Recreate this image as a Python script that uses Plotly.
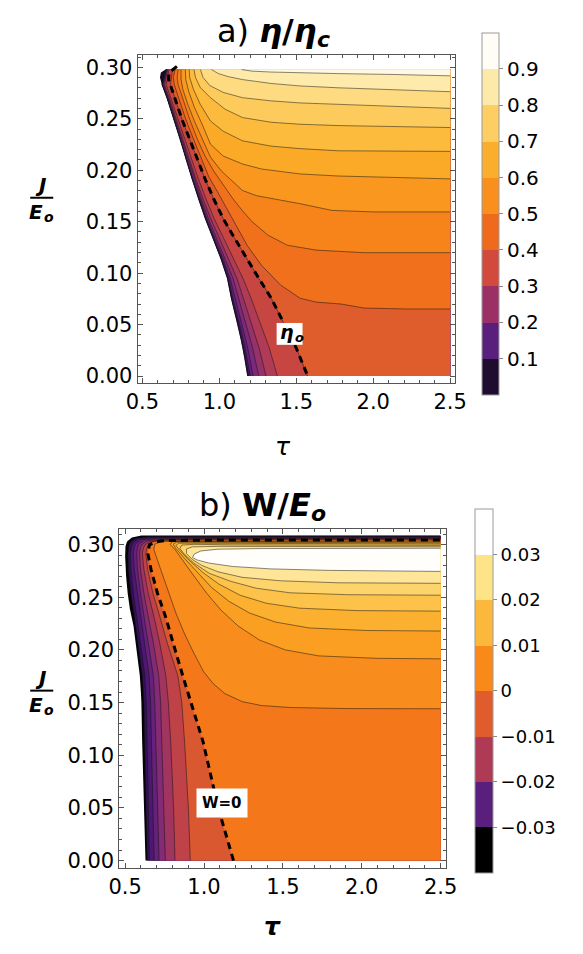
import plotly.graph_objects as go

W, H = 583, 954
TAU_END = 2.5
FONT = "DejaVu Sans"

# ---------------- (a) efficiency ratio eta / eta_c ----------------
eta_J_top = 0.2978
# edge of the working region (eta -> 0)
eta_edge_tau = [0.651, 0.620, 0.614, 0.626, 0.651, 0.683, 0.714, 0.745, 0.782, 0.820,
                0.863, 0.907, 0.957, 1.007, 1.050, 1.075, 1.106, 1.137, 1.162, 1.181]
eta_edge_J = [0.2978, 0.2949, 0.2901, 0.2833, 0.2737, 0.2592, 0.2447, 0.2302, 0.2109, 0.1916,
              0.1723, 0.1530, 0.1337, 0.1144, 0.0950, 0.0757, 0.0564, 0.0371, 0.0179, 0.0]

# contours that run from the top edge down to J = 0, sampled on fixed J rows
eta_rows_J = [0.2978, 0.2833, 0.2688, 0.2495, 0.2302, 0.2109, 0.1916, 0.1723,
              0.1530, 0.1337, 0.1144, 0.0950, 0.0757, 0.0517, 0.0275, 0.0]
eta_low_tau = {
    0.05: [0.652, 0.627, 0.663, 0.705, 0.746, 0.783, 0.821, 0.864, 0.908, 0.958, 1.009, 1.052, 1.078, 1.117, 1.153, 1.185],
    0.10: [0.653, 0.628, 0.663, 0.705, 0.747, 0.784, 0.822, 0.866, 0.910, 0.961, 1.011, 1.055, 1.082, 1.122, 1.158, 1.191],
    0.15: [0.654, 0.629, 0.665, 0.707, 0.748, 0.786, 0.824, 0.868, 0.913, 0.964, 1.016, 1.061, 1.088, 1.130, 1.167, 1.201],
    0.20: [0.656, 0.632, 0.667, 0.709, 0.751, 0.789, 0.829, 0.873, 0.919, 0.971, 1.024, 1.070, 1.101, 1.144, 1.184, 1.220],
    0.25: [0.660, 0.637, 0.672, 0.714, 0.757, 0.796, 0.837, 0.882, 0.929, 0.984, 1.039, 1.089, 1.125, 1.172, 1.216, 1.256],
    0.30: [0.665, 0.644, 0.678, 0.720, 0.764, 0.805, 0.847, 0.894, 0.944, 1.001, 1.059, 1.114, 1.156, 1.208, 1.258, 1.303],
    0.35: [0.673, 0.655, 0.688, 0.731, 0.776, 0.820, 0.864, 0.913, 0.966, 1.029, 1.091, 1.153, 1.206, 1.266, 1.324, 1.377],
    0.40: [0.695, 0.683, 0.714, 0.757, 0.807, 0.857, 0.907, 0.963, 1.025, 1.100, 1.175, 1.256, 1.337, 1.418, 1.499, 1.574],
}
# contours that run from the top edge to the right edge (tau list, J list)
eta_high = {
    0.45: ([0.712, 0.701, 0.707, 0.739, 0.782, 0.832, 0.882, 0.932, 0.988, 1.050, 1.112, 1.181, 1.274, 1.399, 1.524, 1.630, 1.792, 1.941, 2.209, 2.5],
           [0.2978, 0.2901, 0.2833, 0.2688, 0.2495, 0.2302, 0.2109, 0.1935, 0.1791, 0.1626, 0.1453, 0.1269, 0.1076, 0.0883, 0.0757, 0.0719, 0.0700, 0.0661, 0.0652, 0.0652]),
    0.50: ([0.732, 0.726, 0.732, 0.763, 0.807, 0.857, 0.907, 0.963, 1.025, 1.088, 1.150, 1.212, 1.316, 1.441, 1.628, 1.939, 2.5],
           [0.2978, 0.2901, 0.2833, 0.2688, 0.2495, 0.2302, 0.2138, 0.1993, 0.1858, 0.1723, 0.1607, 0.1501, 0.1369, 0.1272, 0.1224, 0.1199, 0.1199]),
    0.55: ([0.751, 0.751, 0.763, 0.795, 0.838, 0.888, 0.942, 1.013, 1.088, 1.150, 1.243, 1.357, 1.524, 1.731, 2.002, 2.5],
           [0.2978, 0.2881, 0.2785, 0.2640, 0.2476, 0.2302, 0.2128, 0.1993, 0.1887, 0.1803, 0.1752, 0.1723, 0.1675, 0.1610, 0.1595, 0.1595]),
    0.60: ([0.779, 0.782, 0.801, 0.838, 0.888, 0.942, 1.025, 1.150, 1.274, 1.524, 1.773, 2.147, 2.5],
           [0.2978, 0.2881, 0.2765, 0.2611, 0.2447, 0.2254, 0.2138, 0.2061, 0.2012, 0.1964, 0.1944, 0.1926, 0.1916]),
    0.65: ([0.804, 0.807, 0.832, 0.876, 0.942, 1.025, 1.150, 1.337, 1.524, 1.773, 2.147, 2.5],
           [0.2978, 0.2901, 0.2785, 0.2640, 0.2479, 0.2379, 0.2286, 0.2234, 0.2210, 0.2189, 0.2186, 0.2183]),
    0.70: ([0.835, 0.845, 0.876, 0.942, 1.038, 1.150, 1.337, 1.524, 1.773, 2.147, 2.5],
           [0.2978, 0.2901, 0.2804, 0.2705, 0.2592, 0.2512, 0.2466, 0.2447, 0.2434, 0.2423, 0.2415]),
    0.75: ([0.877, 0.894, 0.938, 1.025, 1.150, 1.337, 1.524, 1.773, 2.147, 2.5],
           [0.2978, 0.2901, 0.2823, 0.2756, 0.2705, 0.2674, 0.2654, 0.2640, 0.2621, 0.2601]),
    0.80: ([0.949, 0.994, 1.056, 1.150, 1.337, 1.524, 1.773, 2.147, 2.5],
           [0.2978, 0.2939, 0.2910, 0.2881, 0.2843, 0.2819, 0.2801, 0.2780, 0.2763]),
    0.85: ([1.145, 1.212, 1.337, 1.524, 1.773, 2.147, 2.5],
           [0.2978, 0.2963, 0.2954, 0.2946, 0.2939, 0.2930, 0.2917]),
}
# eta = eta_o curve
eta0_tau = [0.724, 0.672, 0.670, 0.714, 0.757, 0.807, 0.857, 0.907, 0.963, 1.025, 1.100, 1.175, 1.256, 1.337, 1.418, 1.499, 1.574]
eta0_J = [0.3010, 0.2946, 0.2881, 0.2688, 0.2495, 0.2302, 0.2109, 0.1916, 0.1723, 0.1530, 0.1337, 0.1144, 0.0950, 0.0757, 0.0517, 0.0275, 0.0]

eta_band_colors = ["#170a22", "#34104f", "#4c176f", "#631f7d", "#7c297a", "#97316a",
                   "#b03b56", "#c84642", "#df5c2c", "#f0701c", "#f6841a", "#f9971e",
                   "#fbaa28", "#fcbb3d", "#fdcb5c", "#fedb80", "#feeaaa", "#fff8e3"]
eta_bar_ticks = [0.1, 0.2, 0.3, 0.4, 0.5, 0.6, 0.7, 0.8, 0.9]
eta_bar_colors = ["#1f0c2e", "#5a1e7c", "#9b2f66", "#d14a3c", "#ef6a1d",
                  "#f98f1c", "#fbae2b", "#fdce64", "#feeaa8", "#fffdf5"]

# ---------------- (b) work W / E_o ----------------
w_J_top = 0.3085
w_edge_tau = [0.603, 0.543, 0.512, 0.502, 0.500, 0.506, 0.516, 0.530, 0.553, 0.561,
              0.583, 0.593, 0.600, 0.603, 0.608, 0.620, 0.629]
w_edge_J = [0.3085, 0.3066, 0.3028, 0.2981, 0.2887, 0.2698, 0.2538, 0.2387, 0.2226, 0.2132,
            0.1877, 0.1755, 0.1594, 0.1500, 0.1123, 0.0500, 0.0]

# contours (W <= 0) from J = 0 up the left side, round the corner and along the top:
# tau values, then the J values of the corner/top points (top-right first)
w_rows_J = [0.0, 0.0500, 0.1123, 0.1500, 0.1755, 0.2066, 0.2321, 0.2538, 0.2764, 0.2915]
w_low = {
    -0.035: ([0.640, 0.634, 0.625, 0.619, 0.609, 0.582, 0.558, 0.536, 0.521, 0.518, 0.524, 0.536, 0.567, 0.652, 0.998, 2.5],
             [0.3079, 0.3077, 0.3074, 0.3061, 0.3028, 0.2991]),
    -0.030: ([0.654, 0.649, 0.640, 0.634, 0.625, 0.597, 0.573, 0.552, 0.536, 0.533, 0.540, 0.552, 0.585, 0.670, 0.998, 2.5],
             [0.3075, 0.3074, 0.3069, 0.3054, 0.3019, 0.2986]),
    -0.025: ([0.684, 0.676, 0.667, 0.661, 0.652, 0.622, 0.597, 0.576, 0.558, 0.552, 0.558, 0.570, 0.603, 0.682, 0.998, 2.5],
             [0.3071, 0.3069, 0.3063, 0.3047, 0.3014, 0.2981]),
    -0.020: ([0.715, 0.707, 0.698, 0.688, 0.679, 0.646, 0.619, 0.597, 0.579, 0.573, 0.579, 0.591, 0.622, 0.695, 0.998, 2.5],
             [0.3066, 0.3063, 0.3057, 0.3040, 0.3009, 0.2976]),
    -0.015: ([0.755, 0.746, 0.734, 0.725, 0.713, 0.679, 0.646, 0.619, 0.597, 0.591, 0.597, 0.609, 0.640, 0.707, 0.998, 2.5],
             [0.3060, 0.3058, 0.3050, 0.3033, 0.3005, 0.2972]),
    -0.010: ([0.816, 0.807, 0.789, 0.774, 0.758, 0.719, 0.682, 0.646, 0.619, 0.609, 0.616, 0.628, 0.658, 0.725, 0.998, 2.5],
             [0.3055, 0.3052, 0.3043, 0.3028, 0.3000, 0.2967]),
    -0.005: ([0.913, 0.901, 0.877, 0.859, 0.834, 0.767, 0.719, 0.676, 0.643, 0.631, 0.637, 0.649, 0.670, 0.731, 0.998, 2.5],
             [0.3049, 0.3046, 0.3039, 0.3025, 0.3000, 0.2962]),
    0.000: ([1.187, 1.090, 0.995, 0.916, 0.865, 0.804, 0.755, 0.705, 0.664, 0.644, 0.654, 0.695, 0.755, 0.998, 1.606, 2.5],
            [0.3044, 0.3044, 0.3042, 0.3038, 0.3028, 0.2997]),
}
# closed contours (W > 0) from the right edge round the left and back to the right edge
w_high = {
    0.005: ([2.5, 1.910, 1.546, 1.363, 1.242, 1.132, 1.059, 0.998, 0.938, 0.877, 0.822, 0.774, 0.731, 0.701, 0.682, 0.688, 0.731, 0.847, 2.5],
            [0.1441, 0.1443, 0.1453, 0.1472, 0.1509, 0.1585, 0.1679, 0.1792, 0.1962, 0.2151, 0.2349, 0.2547, 0.2726, 0.2868, 0.2953, 0.3005, 0.3028, 0.3034, 0.3036]),
    0.010: ([2.5, 2.093, 1.728, 1.515, 1.351, 1.217, 1.108, 1.017, 0.938, 0.871, 0.816, 0.786, 0.798, 0.877, 2.5],
            [0.1915, 0.1920, 0.1943, 0.2000, 0.2094, 0.2226, 0.2377, 0.2538, 0.2698, 0.2840, 0.2953, 0.3000, 0.3028, 0.3030, 0.3026]),
    0.015: ([2.5, 2.032, 1.667, 1.454, 1.290, 1.157, 1.047, 0.956, 0.877, 0.822, 0.804, 0.828, 0.938, 2.5],
            [0.2179, 0.2184, 0.2208, 0.2264, 0.2349, 0.2462, 0.2594, 0.2736, 0.2868, 0.2962, 0.3005, 0.3023, 0.3023, 0.3016]),
    0.020: ([2.5, 1.971, 1.606, 1.394, 1.229, 1.096, 0.992, 0.907, 0.847, 0.822, 0.840, 0.968, 2.5],
            [0.2368, 0.2373, 0.2396, 0.2443, 0.2519, 0.2623, 0.2736, 0.2849, 0.2943, 0.2991, 0.3013, 0.3013, 0.3005]),
    0.025: ([2.5, 1.910, 1.546, 1.333, 1.169, 1.035, 0.938, 0.877, 0.847, 0.859, 0.938, 1.181, 2.5],
            [0.2519, 0.2524, 0.2542, 0.2585, 0.2651, 0.2726, 0.2821, 0.2906, 0.2962, 0.2995, 0.3002, 0.2997, 0.2992]),
    0.030: ([2.5, 1.850, 1.485, 1.242, 1.090, 0.986, 0.926, 0.889, 0.889, 0.926, 1.090, 1.606, 2.5],
            [0.2632, 0.2637, 0.2656, 0.2689, 0.2741, 0.2802, 0.2858, 0.2915, 0.2958, 0.2978, 0.2983, 0.2981, 0.2979]),
    0.035: ([2.5, 1.789, 1.424, 1.181, 1.029, 0.956, 0.927, 0.938, 0.980, 1.090, 1.363, 2.5],
            [0.2745, 0.2755, 0.2769, 0.2792, 0.2825, 0.2854, 0.2877, 0.2910, 0.2939, 0.2956, 0.2962, 0.2965]),
}
w_band_colors = ["#050208", "#34105a", "#4d1872", "#66217a", "#832b74", "#a2355f",
                 "#bf4249", "#d95830", "#f4781a", "#f88c1c", "#fa9f22", "#fbb02f",
                 "#fcc24a", "#fdd36c", "#fee597", "#fffefa"]
w_bar_ticks = [-0.03, -0.02, -0.01, 0.0, 0.01, 0.02, 0.03]
w_bar_labels = ["\u22120.03", "\u22120.02", "\u22120.01", "0", "0.01", "0.02", "0.03"]
w_bar_colors = ["#000000", "#5a1e7c", "#ae3a55", "#e05c2d", "#f98a1a", "#fcb83c", "#fee387", "#ffffff"]

LINE_COLOR = "rgba(20,20,20,0.5)"

fig = go.Figure()


def band(xs, ys, color, xa, ya):
    fig.add_trace(go.Scatter(x=xs + [xs[0]], y=ys + [ys[0]], mode="lines", fill="toself",
                             fillcolor=color, line=dict(width=0, color=color),
                             hoverinfo="skip", showlegend=False, xaxis=xa, yaxis=ya))


def curve(xs, ys, xa, ya, color=LINE_COLOR, width=1.0, dash=None):
    fig.add_trace(go.Scatter(x=xs, y=ys, mode="lines",
                             line=dict(color=color, width=width, dash=dash),
                             hoverinfo="skip", showlegend=False, xaxis=xa, yaxis=ya))


# ---- panel (a): filled super-level regions, lowest first ----
band(eta_edge_tau + [TAU_END, TAU_END], eta_edge_J + [0.0, eta_J_top], eta_band_colors[0], "x", "y")
a_lines = []
for k, (lev, taus) in enumerate(eta_low_tau.items()):
    band(taus + [TAU_END, TAU_END], eta_rows_J + [0.0, eta_J_top], eta_band_colors[k + 1], "x", "y")
    a_lines.append((taus, eta_rows_J))
off = len(eta_low_tau) + 1
for k, (lev, (taus, js)) in enumerate(eta_high.items()):
    band(taus + [TAU_END], js + [eta_J_top], eta_band_colors[off + k], "x", "y")
    a_lines.append((taus, js))
for taus, js in a_lines:
    curve(taus, js, "x", "y")
curve(eta0_tau, eta0_J, "x", "y", color="black", width=3, dash="7px,5px")

# ---- panel (b) ----
band(w_edge_tau + [TAU_END, TAU_END], w_edge_J + [0.0, w_J_top], w_band_colors[0], "x2", "y2")
b_lines = []
for k, (lev, (taus, top_js)) in enumerate(w_low.items()):
    js = w_rows_J + top_js[::-1]
    band(taus + [TAU_END], js + [0.0], w_band_colors[k + 1], "x2", "y2")
    if lev != 0.0:
        b_lines.append((taus, js))
    else:
        w_zero = (taus, js)
off = len(w_low) + 1
for k, (lev, (taus, js)) in enumerate(w_high.items()):
    band(taus, js, w_band_colors[off + k], "x2", "y2")
    b_lines.append((taus, js))
for taus, js in b_lines:
    curve(taus, js, "x2", "y2")
curve(w_zero[0], w_zero[1], "x2", "y2", color="black", width=3, dash="7px,5px")


def stepped(colors):
    n = len(colors)
    out = []
    for i, c in enumerate(colors):
        out += [[i / n, c], [(i + 1) / n, c]]
    return out


def colorbar_trace(colors, cmin, cmax, ticks, labels, x_px, y_px, len_px, thick, size, xa, ya):
    fig.add_trace(go.Scatter(
        x=[1.0], y=[-1.0], mode="markers", hoverinfo="skip", showlegend=False, xaxis=xa, yaxis=ya,
        marker=dict(size=1, color=[cmin], cmin=cmin, cmax=cmax, colorscale=stepped(colors),
                    showscale=True,
                    colorbar=dict(x=x_px / W, xanchor="left", y=1 - y_px / H, yanchor="top",
                                  len=len_px / H, lenmode="fraction", thickness=thick,
                                  thicknessmode="pixels", xpad=0, ypad=0,
                                  outlinecolor="#9a9a9a", outlinewidth=1,
                                  tickvals=ticks, ticktext=labels, ticks="outside",
                                  ticklen=4, tickcolor="#888", tickwidth=1,
                                  tickfont=dict(family=FONT, size=size, color="black"))),
    ))


colorbar_trace(eta_bar_colors, 0.0, 1.0, eta_bar_ticks, [f"{t:.1f}" for t in eta_bar_ticks],
               490, 33, 364, 17, 20, "x", "y")
colorbar_trace(w_bar_colors, -0.04, 0.04, w_bar_ticks, w_bar_labels,
               483, 512, 366, 18, 18, "x2", "y2")

axis_common = dict(showline=True, linecolor="#555", linewidth=1, mirror="ticks",
                   ticks="inside", ticklen=5, tickcolor="#555", tickwidth=1,
                   showgrid=False, zeroline=False,
                   tickfont=dict(family=FONT, size=21, color="black"))

fig.update_layout(
    width=W, height=H, margin=dict(l=0, r=0, t=0, b=0, pad=0),
    paper_bgcolor="white", plot_bgcolor="white", hovermode=False, showlegend=False,
    xaxis=dict(domain=[131 / W, 462 / W], range=[0.4688, 2.531], anchor="y",
               tickvals=[0.5, 1.0, 1.5, 2.0, 2.5], tickformat=".1f",
               minor=dict(dtick=0.1, tick0=0, ticks="inside", ticklen=3, tickcolor="#555"),
               **axis_common),
    yaxis=dict(domain=[1 - 385 / H, 1 - 55 / H], range=[-0.0063, 0.3123], anchor="x",
               tickvals=[0, 0.05, 0.1, 0.15, 0.2, 0.25, 0.3], tickformat=".2f",
               minor=dict(dtick=0.01, tick0=0, ticks="inside", ticklen=3, tickcolor="#555"),
               **axis_common),
    xaxis2=dict(domain=[112 / W, 453 / W], range=[0.4635, 2.5365], anchor="y2",
                tickvals=[0.5, 1.0, 1.5, 2.0, 2.5], tickformat=".1f",
                minor=dict(dtick=0.1, tick0=0, ticks="inside", ticklen=3, tickcolor="#555"),
                **axis_common),
    yaxis2=dict(domain=[1 - 873 / H, 1 - 532 / H], range=[-0.0066, 0.3151], anchor="x2",
                tickvals=[0, 0.05, 0.1, 0.15, 0.2, 0.25, 0.3], tickformat=".2f",
                minor=dict(dtick=0.01, tick0=0, ticks="inside", ticklen=3, tickcolor="#555"),
                **axis_common),
)


def note(text, x_px, y_px, size, anchor="center"):
    fig.add_annotation(text=text, x=x_px / W, y=1 - y_px / H, xref="paper", yref="paper",
                       showarrow=False, xanchor=anchor, yanchor="middle",
                       font=dict(family=FONT, size=size, color="black"))


# panel titles (subscripts set as their own smaller labels)
note("a) <b><i>\u03b7</i>/<i>\u03b7</i></b>", 320, 31, 32, "right")
note("<b><i>c</i></b>", 316, 40, 22, "left")
note("b) <b>W/<i>E</i></b>", 314, 508, 32, "right")
note("<b><i>o</i></b>", 310, 517, 22, "left")
# axis titles
note("<i>\u03c4</i>", 283, 449, 25)
note("<b><i>\u03c4</i></b>", 272, 932, 25)
for jy, bar, ey in [(186, 199, 213), (682, 695, 709)]:
    note("<b><i>J</i></b>", 30, jy, 20)
    note("<b><i>E</i></b>", 34, ey, 20, "right")
    note("<b><i>o</i></b>", 31, ey + 5, 14, "left")
    fig.add_shape(type="line", xref="paper", yref="paper", x0=19 / W, x1=43 / W,
                  y0=1 - bar / H, y1=1 - bar / H, line=dict(color="black", width=2))

# curve labels on white boxes
fig.add_shape(type="rect", xref="paper", yref="paper", x0=276 / W, x1=303 / W,
              y0=1 - 347 / H, y1=1 - 325 / H, fillcolor="white", line=dict(width=0))
note("<b><i>\u03b7</i></b>", 287, 334, 19)
note("<b><i>o</i></b>", 293, 340, 13, "left")
fig.add_annotation(text="<b>W=0</b>", x=1.111, y=0.0542, xref="x2", yref="y2",
                   showarrow=False, bgcolor="white", borderpad=5,
                   font=dict(family=FONT, size=15, color="black"))

fig.write_html("out.html")
